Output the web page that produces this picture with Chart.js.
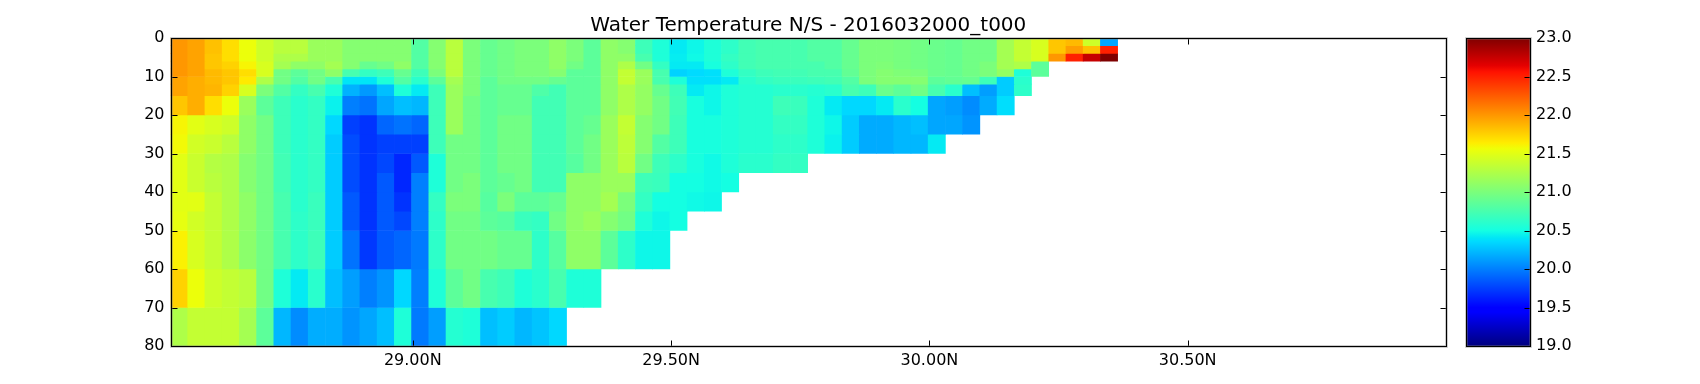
<!DOCTYPE html>
<html>
<head>
<meta charset="utf-8">
<script src="https://cdn.jsdelivr.net/npm/chart.js@4"></script>
<style>
body { margin: 0; background: #fff; width: 1700px; height: 384px; overflow: hidden; position: relative; }
canvas { position: absolute; top: 0; }
#heat { left: 0; }
#cbar { left: 1456px; }
</style>
</head>
<body>
<canvas id="heat" width="1700" height="384"></canvas>
<canvas id="cbar" width="244" height="384"></canvas>
<script>
const chartTitle = 'Water Temperature N/S - 2016032000_t000';
const xTickValues = [29.0, 29.5, 30.0, 30.5];
const xTickLabels = ['29.00N', '29.50N', '30.00N', '30.50N'];
const yTickValues = [0, 10, 20, 30, 40, 50, 60, 70, 80];
const cbarRange = [19, 23];
const cbarTicks = [19, 19.5, 20, 20.5, 21, 21.5, 22, 22.5, 23];

// layer edges in metres, one more than there are rows
const depthEdges = [0, 2, 4, 6, 8, 10, 12, 15, 20, 25, 30, 35, 40, 45, 50, 60, 70, 80];

const latCenters = [
    28.5477, 28.5810, 28.6143, 28.6477, 28.6810, 28.7143, 28.7477, 28.7810, 28.8143, 28.8477, 28.8810,
    28.9143, 28.9477, 28.9810, 29.0143, 29.0477, 29.0810, 29.1143, 29.1477, 29.1810, 29.2143, 29.2477,
    29.2810, 29.3143, 29.3477, 29.3810, 29.4143, 29.4477, 29.4810, 29.5143, 29.5477, 29.5810, 29.6143,
    29.6477, 29.6810, 29.7143, 29.7477, 29.7810, 29.8143, 29.8477, 29.8810, 29.9143, 29.9477, 29.9810,
    30.0143, 30.0477, 30.0810, 30.1143, 30.1477, 30.1810, 30.2143, 30.2477, 30.2810, 30.3143, 30.3477
];

// one list per depth layer
const temp00 = [22.0,21.95,21.82,21.7,21.55,21.4,21.3,21.3,21.15,21.15,21.05,21.05,21.05,21.05,20.8,21.05,21.3,21.0,20.9,
    20.95,21.0,21.0,21.1,21.0,20.85,21.1,21.05,20.7,20.55,20.42,20.47,20.55,20.62,20.72,20.75,20.75,20.75,20.8,
    20.8,20.9,21.0,21.0,20.98,20.95,20.92,20.9,20.95,20.95,21.2,21.35,21.45,21.8,21.85,21.4,20.15];
const temp02 = [22.0,21.95,21.82,21.7,21.55,21.4,21.3,21.3,21.15,21.15,21.05,21.05,21.05,21.05,20.8,21.05,21.3,21.0,20.9,
    20.95,21.0,21.0,21.1,21.0,20.85,21.1,21.05,20.7,20.55,20.42,20.47,20.55,20.62,20.72,20.75,20.75,20.75,20.8,
    20.8,20.9,21.0,21.0,20.98,20.95,20.92,20.9,20.95,20.95,21.2,21.35,21.45,21.8,21.97,21.82,22.5];
const temp04 = [22.0,21.95,21.8,21.7,21.55,21.4,21.25,21.25,21.15,21.15,21.05,21.05,21.05,21.05,20.8,21.05,21.3,21.0,20.9,
    20.95,21.0,21.0,21.1,21.0,20.85,21.1,21.1,20.75,20.55,20.43,20.48,20.55,20.65,20.72,20.75,20.75,20.75,20.8,
    20.8,20.9,21.0,21.0,20.98,20.95,20.92,20.9,20.95,20.95,21.2,21.35,21.45,22.0,22.5,22.75,23.0];
const temp06 = [22.0,21.95,21.8,21.75,21.6,21.45,21.2,21.1,21.1,21.2,21.05,20.9,20.95,21.1,20.8,21.05,21.3,21.0,20.9,
    20.95,21.0,21.0,21.1,20.95,20.85,21.1,21.25,20.95,20.65,20.42,20.42,20.52,20.62,20.72,20.75,20.75,20.75,20.75,
    20.8,20.9,21.0,21.02,20.98,20.95,20.92,20.9,20.95,21.0,21.2,21.25,20.85];
const temp08 = [22.0,21.95,21.85,21.8,21.7,21.45,20.95,20.85,20.95,21.1,20.75,20.65,20.7,20.9,20.7,21.0,21.3,21.0,20.9,
    20.95,21.0,21.0,21.05,20.85,20.85,21.1,21.35,21.15,20.75,20.33,20.36,20.38,20.55,20.65,20.7,20.72,20.72,20.75,
    20.75,20.88,21.0,21.05,21.02,21.0,20.92,20.9,20.95,21.0,21.12,20.55,20.85];
const temp10 = [21.95,21.9,21.85,21.8,21.65,21.25,20.95,20.8,20.95,20.75,20.4,20.4,20.55,20.8,20.6,20.85,21.2,21.0,20.85,
    20.95,20.95,20.95,20.9,20.85,20.85,21.1,21.35,21.15,20.75,20.55,20.38,20.38,20.42,20.6,20.65,20.68,20.68,20.7,
    20.72,20.8,21.0,21.05,21.05,21.05,20.85,20.88,20.9,20.7,20.3,20.6];
const temp12 = [21.95,21.9,21.87,21.75,21.45,21.0,20.8,20.65,20.75,20.55,20.2,20.1,20.25,20.55,20.42,20.7,21.15,21.0,20.85,
    20.9,20.9,20.78,20.72,20.85,20.85,21.1,21.25,21.12,20.9,20.7,20.42,20.47,20.55,20.58,20.58,20.6,20.6,20.58,
    20.6,20.75,20.7,20.92,20.85,20.95,20.75,20.6,20.25,20.12,20.3,20.62];
const temp15 = [21.8,21.9,21.7,21.55,21.15,20.85,20.7,20.6,20.65,20.45,20.0,19.95,20.15,20.25,20.22,20.7,21.15,20.95,20.85,
    20.9,20.9,20.72,20.72,20.85,20.85,21.1,21.25,21.12,20.95,20.72,20.52,20.47,20.55,20.58,20.58,20.7,20.68,20.55,
    20.42,20.35,20.35,20.42,20.6,20.5,20.15,20.12,20.05,20.17,20.37];
const temp20 = [21.6,21.5,21.45,21.4,21.1,20.95,20.7,20.6,20.65,20.35,19.75,19.7,19.9,19.95,19.9,20.7,21.15,20.95,20.85,
    20.95,20.95,20.72,20.72,20.85,20.9,21.15,21.35,21.05,20.95,20.7,20.52,20.52,20.55,20.58,20.58,20.65,20.65,20.55,
    20.47,20.3,20.17,20.17,20.22,20.25,20.15,20.15,20.08];
const temp25 = [21.58,21.42,21.38,21.3,21.1,20.95,20.7,20.6,20.65,20.3,19.8,19.7,19.75,19.75,19.75,20.7,20.95,20.95,20.85,
    20.95,20.95,20.72,20.72,20.85,20.95,21.15,21.32,21.05,20.8,20.7,20.52,20.52,20.55,20.58,20.58,20.62,20.62,20.55,
    20.45,20.3,20.17,20.17,20.22,20.22,20.42];
const temp30 = [21.5,21.38,21.28,21.25,21.05,20.95,20.72,20.6,20.65,20.3,19.8,19.7,19.78,19.65,19.85,20.55,20.95,20.95,20.85,
    20.95,20.95,20.72,20.72,20.82,20.95,21.15,21.3,20.95,20.7,20.62,20.52,20.48,20.55,20.6,20.6,20.65,20.65];
const temp35 = [21.5,21.38,21.3,21.25,21.05,20.95,20.72,20.6,20.65,20.3,19.8,19.7,19.85,19.65,20.0,20.55,20.95,21.0,20.85,
    20.9,20.95,20.72,20.72,21.1,21.1,21.15,21.15,20.7,20.68,20.5,20.5,20.48,20.5];
const temp40 = [21.5,21.5,21.35,21.25,21.1,20.95,20.75,20.6,20.68,20.3,19.85,19.7,19.85,19.7,20.0,20.65,21.0,21.0,20.82,
    21.0,20.85,20.85,20.9,21.1,21.1,21.2,21.0,20.65,20.5,20.5,20.48,20.47];
const temp45 = [21.52,21.42,21.35,21.25,21.1,20.95,20.75,20.62,20.68,20.3,19.85,19.7,19.85,19.78,20.0,20.62,20.95,20.95,20.85,
    20.82,20.68,20.65,20.95,21.1,21.15,21.05,20.95,20.55,20.47,20.5];
const temp50 = [21.62,21.45,21.35,21.25,21.08,20.95,20.75,20.62,20.7,20.3,19.95,19.72,19.85,19.9,19.98,20.62,20.95,20.95,20.95,
    20.9,20.9,20.62,20.82,21.1,21.1,20.85,20.62,20.47,20.47];
const temp60 = [21.75,21.55,21.4,21.35,21.3,20.95,20.55,20.42,20.6,20.25,20.12,20.0,20.08,20.35,20.0,20.55,20.85,20.95,20.75,
    20.7,20.55,20.6,20.75,20.55,20.55];
const temp70 = [21.25,21.35,21.35,21.35,21.2,20.85,20.22,20.05,20.18,20.18,20.08,20.15,20.25,20.55,19.98,20.12,20.58,20.55,20.25,
    20.3,20.22,20.27,20.35];

const tempRows = [temp00, temp02, temp04, temp06, temp08, temp10, temp12, temp15, temp20,
    temp25, temp30, temp35, temp40, temp45, temp50, temp60, temp70];

// jet colormap
const jetStops = [
    [0, 0, 0, 127], [0.11, 0, 0, 255], [0.125, 0, 0, 255], [0.34, 0, 219, 255], [0.35, 0, 229, 247],
    [0.375, 20, 255, 226], [0.64, 238, 255, 8], [0.66, 255, 236, 0], [0.89, 255, 18, 0], [0.91, 229, 0, 0], [1, 127, 0, 0]
];

function jet(t) {
    t = Math.max(0, Math.min(1, t));
    for (let i = 1; i < jetStops.length; i++) {
        const a = jetStops[i - 1], b = jetStops[i];
        if (t <= b[0]) {
            const f = (t - a[0]) / (b[0] - a[0]);
            return 'rgb(' + [1, 2, 3].map(k => Math.round(a[k] + (b[k] - a[k]) * f)).join(',') + ')';
        }
    }
    return 'rgb(127,0,0)';
}

function tempColor(v) {
    return jet((v - cbarRange[0]) / (cbarRange[1] - cbarRange[0]));
}

const tickFont = { family: 'DejaVu Sans', size: 16 };

// matplotlib style frame with ticks pointing inward
function frameAndTicks(sides) {
    return {
        id: 'frameAndTicks',
        afterDatasetsDraw(chart) {
            const a = chart.chartArea, ctx = chart.ctx;
            const l = Math.round(a.left) + 0.5, r = Math.round(a.right) + 0.5;
            const t = Math.round(a.top) + 0.5, b = Math.round(a.bottom) + 0.5;
            ctx.save();
            ctx.strokeStyle = '#000';
            ctx.lineWidth = 1;
            ctx.beginPath();
            chart.scales.y.ticks.forEach(tk => {
                const py = Math.round(chart.scales.y.getPixelForValue(tk.value)) + 0.5;
                if (sides.left) { ctx.moveTo(l, py); ctx.lineTo(l + 6, py); }
                ctx.moveTo(r, py); ctx.lineTo(r - 6, py);
            });
            if (sides.x) {
                chart.scales.x.ticks.forEach(tk => {
                    const px = Math.round(chart.scales.x.getPixelForValue(tk.value)) + 0.5;
                    ctx.moveTo(px, t); ctx.lineTo(px, t + 6);
                    ctx.moveTo(px, b); ctx.lineTo(px, b - 6);
                });
            }
            ctx.stroke();
            ctx.strokeStyle = 'rgba(120,120,120,0.5)';
            ctx.lineWidth = 2.5;
            ctx.strokeRect(l, t, r - l, b - t);
            ctx.strokeStyle = '#000';
            ctx.lineWidth = 1;
            ctx.strokeRect(l, t, r - l, b - t);
            ctx.restore();
        }
    };
}

const heatDatasets = tempRows.map((row, r) => ({
    data: row.map((v, c) => ({ x: latCenters[c], y: [depthEdges[r], depthEdges[r + 1]] })),
    backgroundColor: row.map(tempColor),
    borderWidth: 0,
    categoryPercentage: 1,
    barPercentage: 1,
    grouped: false
}));

new Chart(document.getElementById('heat'), {
    type: 'bar',
    data: { datasets: heatDatasets },
    plugins: [frameAndTicks({ left: true, x: true })],
    options: {
        responsive: false,
        animation: false,
        layout: { padding: { right: 254 } },
        plugins: {
            legend: { display: false },
            tooltip: { enabled: false },
            title: {
                display: true,
                text: chartTitle,
                fullSize: false,
                color: '#000',
                font: { family: 'DejaVu Sans', size: 20, weight: 'normal', lineHeight: 1.15 },
                padding: { top: 14, bottom: 1 }
            }
        },
        scales: {
            x: {
                type: 'linear',
                offset: false,
                min: 28.531,
                max: 31.0,
                grid: { display: false, drawTicks: false, offset: false },
                border: { display: false },
                afterBuildTicks(scale) { scale.ticks = xTickValues.map(v => ({ value: v })); },
                afterFit(scale) { scale.height = 38; },
                ticks: {
                    color: '#000',
                    font: tickFont,
                    padding: 5,
                    autoSkip: false,
                    maxRotation: 0,
                    callback: v => xTickLabels[xTickValues.indexOf(v)]
                }
            },
            y: {
                type: 'linear',
                reverse: true,
                min: 0,
                max: 80,
                grid: { display: false, drawTicks: false },
                border: { display: false },
                afterBuildTicks(scale) { scale.ticks = yTickValues.map(v => ({ value: v })); },
                afterFit(scale) { scale.width = 170.5; },
                ticks: { color: '#000', font: tickFont, padding: 6 }
            }
        }
    }
});

new Chart(document.getElementById('cbar'), {
    type: 'bar',
    data: {
        labels: ['T'],
        datasets: [{
            data: [cbarRange],
            categoryPercentage: 1,
            barPercentage: 1,
            borderWidth: 0,
            backgroundColor(ctx) {
                const a = ctx.chart.chartArea;
                if (!a) return '#000';
                const g = ctx.chart.ctx.createLinearGradient(0, a.bottom, 0, a.top);
                jetStops.forEach(s => g.addColorStop(s[0], 'rgb(' + s[1] + ',' + s[2] + ',' + s[3] + ')'));
                return g;
            }
        }]
    },
    plugins: [frameAndTicks({ left: false, x: false })],
    options: {
        responsive: false,
        animation: false,
        layout: { padding: { left: 10, top: 38, bottom: 38 } },
        plugins: { legend: { display: false }, tooltip: { enabled: false } },
        scales: {
            x: { display: false },
            y: {
                position: 'right',
                min: cbarRange[0],
                max: cbarRange[1],
                grid: { display: false, drawTicks: false },
                border: { display: false },
                afterBuildTicks(scale) { scale.ticks = cbarTicks.map(v => ({ value: v })); },
                afterFit(scale) { scale.width = 170; },
                ticks: { color: '#000', font: tickFont, padding: 6, callback: v => v.toFixed(1) }
            }
        }
    }
});
</script>
</body>
</html>
